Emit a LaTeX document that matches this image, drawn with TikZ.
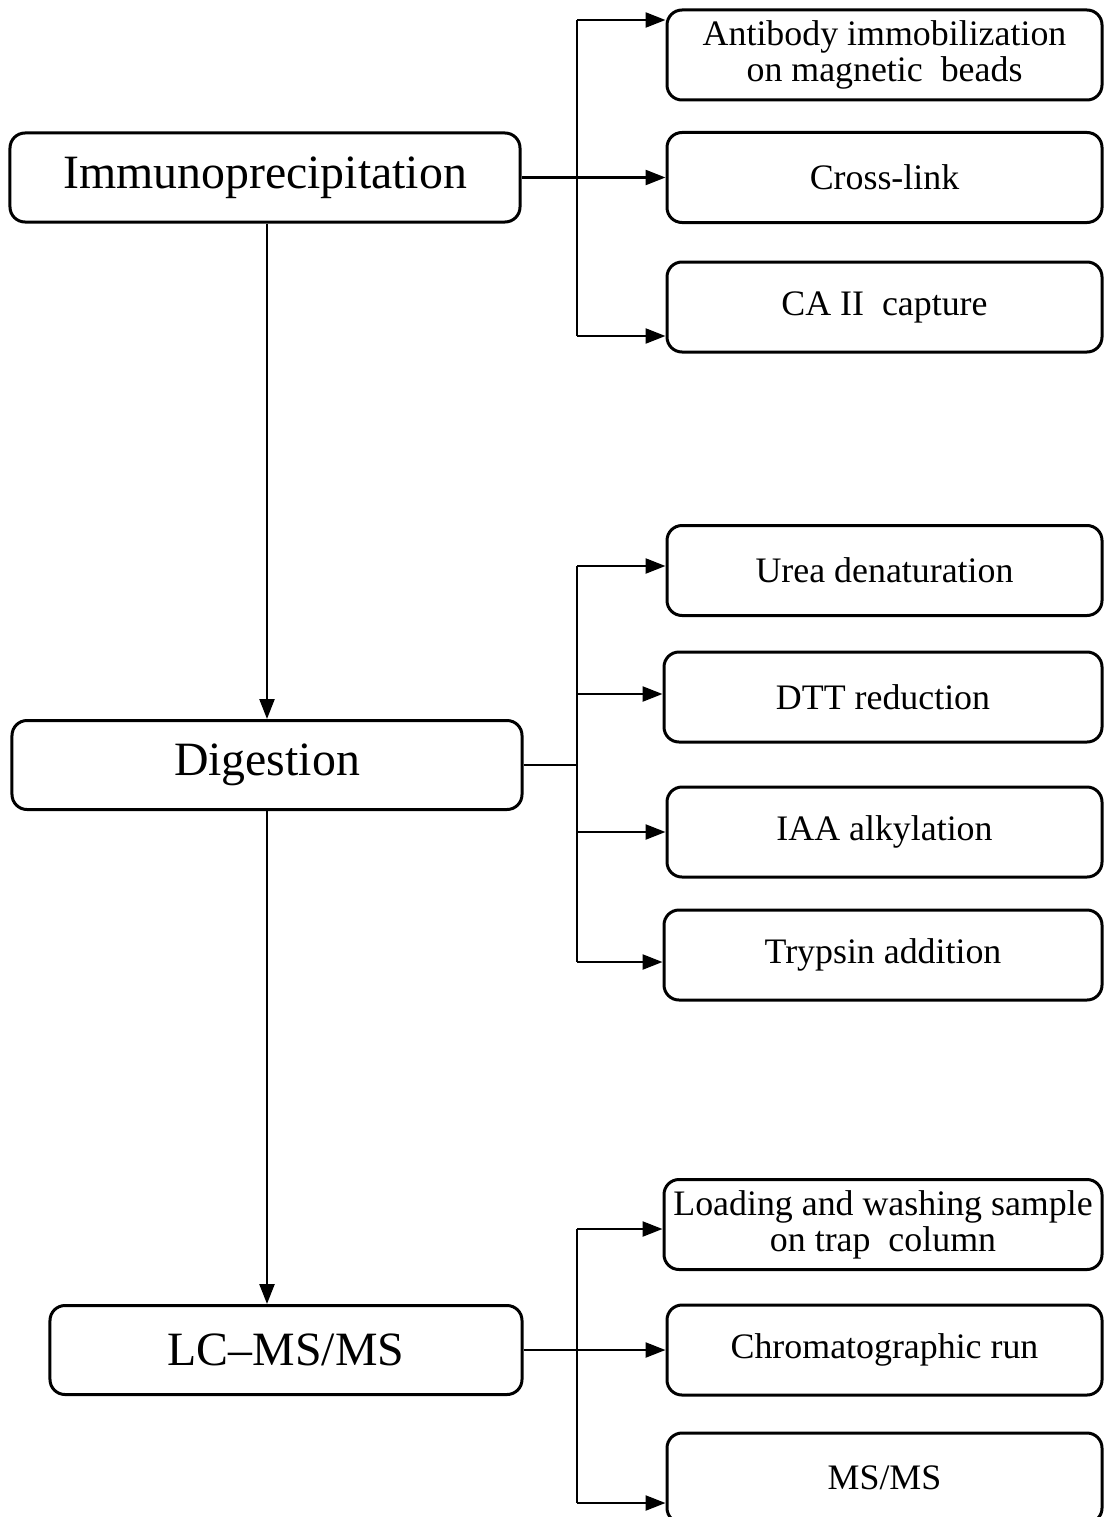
\documentclass[tikz,border=0pt]{standalone}
\usepackage{fontspec}
\setmainfont{Liberation Serif}
\usetikzlibrary{arrows.meta,calc}
\tikzset{
  box/.style={draw=black, line width=3bp, rounded corners=15bp, inner sep=0pt, align=center, fill=white},
  mainbox/.style={box, minimum height=89bp, font=\fontsize{48}{52}\selectfont},
  subbox/.style={box, minimum height=90bp, font=\fontsize{36}{36}\selectfont},
  conn/.style={line width=2.4bp, draw=black},
  arr/.style={conn, -{Triangle[length=20bp,width=15bp]}}
}
\begin{document}
\begin{tikzpicture}[x=1bp, y=-1bp]
\useasboundingbox (0,0) rectangle (1104,1517);
\begin{scope}
\clip (0,0) rectangle (1104,1517);
% main boxes
\node[mainbox, minimum width=510bp] (imm) at (265,177.5) {Immunoprecipitation};
\node[mainbox, minimum width=510bp] (dig) at (267,765) {Digestion};
\node[mainbox, minimum width=472bp] (lc) at (286,1350) {LC–MS/MS};
% sub boxes
\node[subbox, minimum width=435bp] (ab) at (884.5,55) {Antibody immobilization\\on magnetic\ \ beads};
\node[subbox, minimum width=435bp] (cl) at (884.5,177.5) {Cross-link};
\node[subbox, minimum width=435bp] (ca) at (884.5,307) {CA II\ \ capture};
\node[subbox, minimum width=435bp] (urea) at (884.5,570.5) {Urea denaturation};
\node[subbox, minimum width=438bp] (dtt) at (883,697) {DTT reduction};
\node[subbox, minimum width=435bp] (iaa) at (884.5,832) {IAA alkylation};
\node[subbox, minimum width=438bp] (tryp) at (883,955) {Trypsin addition};
\node[subbox, minimum width=438bp] (load) at (883,1224.5) {Loading and washing sample\\on trap\ \ column};
\node[subbox, minimum width=435bp] (chrom) at (884.5,1350) {Chromatographic run};
\node[subbox, minimum width=435bp] (msms) at (884.5,1478) {MS/MS};
% junction coordinates
\coordinate (j1) at (577,177.5);
\coordinate (t1) at (577,20);
\coordinate (b1) at (577,336);
\coordinate (j2) at (577,765);
\coordinate (t2) at (577,566);
\coordinate (m2a) at (577,694);
\coordinate (m2b) at (577,832);
\coordinate (b2) at (577,962);
\coordinate (j3) at (577,1350);
\coordinate (t3) at (577,1229);
\coordinate (b3) at (577,1503);
% vertical main flow
\draw[arr] (dig.north |- imm.south) -- (dig.north);
\draw[arr] (dig.south) -- (dig.south |- lc.north);
% group 1
\draw[conn] (imm.east) -- (j1);
\draw[conn] (t1) -- (b1);
\draw[arr] (t1) -- (ab.west |- t1);
\draw[arr] (j1) -- (cl.west);
\draw[arr] (b1) -- (ca.west |- b1);
% group 2
\draw[conn] (dig.east) -- (j2);
\draw[conn] (t2) -- (b2);
\draw[arr] (t2) -- (urea.west |- t2);
\draw[arr] (m2a) -- (dtt.west |- m2a);
\draw[arr] (m2b) -- (iaa.west |- m2b);
\draw[arr] (b2) -- (tryp.west |- b2);
% group 3
\draw[conn] (lc.east) -- (j3);
\draw[conn] (t3) -- (b3);
\draw[arr] (t3) -- (load.west |- t3);
\draw[arr] (j3) -- (chrom.west);
\draw[arr] (b3) -- (msms.west |- b3);
\end{scope}
\end{tikzpicture}
\end{document}
